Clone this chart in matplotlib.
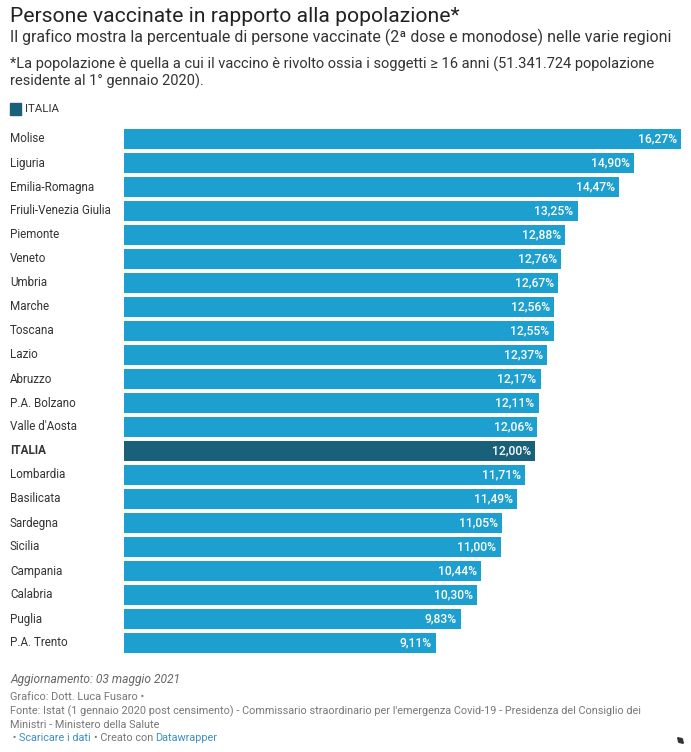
import matplotlib
matplotlib.use('Agg')
import matplotlib.pyplot as plt
from matplotlib.patches import Rectangle, FancyArrowPatch

plt.rcParams['font.family'] = ['Roboto', 'DejaVu Sans']

regioni = ['Molise', 'Liguria', 'Emilia-Romagna', 'Friuli-Venezia Giulia', 'Piemonte',
           'Veneto', 'Umbria', 'Marche', 'Toscana', 'Lazio', 'Abruzzo', 'P.A. Bolzano',
           "Valle d'Aosta", 'ITALIA', 'Lombardia', 'Basilicata', 'Sardegna', 'Sicilia',
           'Campania', 'Calabria', 'Puglia', 'P.A. Trento']
valori = [16.27, 14.90, 14.47, 13.25, 12.88, 12.76, 12.67, 12.56, 12.55, 12.37, 12.17,
          12.11, 12.06, 12.00, 11.71, 11.49, 11.05, 11.00, 10.44, 10.30, 9.83, 9.11]

W, H = 691, 752
BLU = '#1d9fcf'
BLU_SCURO = '#19607a'

fig = plt.figure(figsize=(W / 100, H / 100), dpi=100)


def px(x, y):
    # coordinate pixel (dall'alto a sinistra) -> frazioni della figura
    return x / W, 1 - y / H


def testo(x, y, s, size, color='#333333', **kw):
    fx, fy = px(x, y)
    fig.text(fx, fy, s, fontsize=size * 0.75, color=color, va='center', ha='left', **kw)


# assi del grafico a barre
x0, x1 = 124, 681
y_top, y_bot = 127, 655
ax = fig.add_axes([x0 / W, 1 - y_bot / H, (x1 - x0) / W, (y_bot - y_top) / H])
ax.set_xlim(0, max(valori))
ax.set_ylim(len(regioni) - 0.5, -0.5)
ax.axis('off')

colori = [BLU_SCURO if r == 'ITALIA' else BLU for r in regioni]
ax.barh(range(len(regioni)), valori, height=0.8, color=colori)

for i, (r, v) in enumerate(zip(regioni, valori)):
    ax.text(v - 0.12, i, ('%.2f%%' % v).replace('.', ','), color='white', fontsize=8.7,
            fontweight='medium', va='center', ha='right')
    fy = 1 - (139 + 24 * i) / H
    fig.text(10 / W, fy, r, fontsize=8.4, color='#333333', va='center', ha='left',
             fontweight='bold' if r == 'ITALIA' else 'normal')

# titoli
testo(10, 17, 'Persone vaccinate in rapporto alla popolazione*', 20.3, color='#222222')
testo(10, 37, 'Il grafico mostra la percentuale di persone vaccinate (2ª dose e monodose) nelle varie regioni',
      15.2, color='#333333')
testo(10, 64, '*La popolazione è quella a cui il vaccino è rivolto ossia i soggetti ≥ 16 anni (51.341.724 popolazione',
      14, color='#333333')
testo(10, 81, 'residente al 1° gennaio 2020).', 14, color='#333333')

# legenda
fig.patches.append(Rectangle(px(10, 115), 11 / W, 12 / H, transform=fig.transFigure,
                             color=BLU_SCURO))
testo(25, 109, 'ITALIA', 11, color='#333333')

# note
testo(10, 679, 'Aggiornamento: 03 maggio 2021', 11.5, color='#666666', style='italic')
testo(10, 697, 'Grafico: Dott. Luca Fusaro •', 10.5, color='#777777')
testo(10, 711, "Fonte: Istat (1 gennaio 2020 post censimento) - Commissario straordinario per l'emergenza Covid-19 - Presidenza del Consiglio dei",
      10.4, color='#777777')
testo(10, 725, 'Ministri - Ministero della Salute', 10.4, color='#777777')
testo(10, 738, ' •', 10.4, color='#777777')
testo(19, 738, 'Scaricare i dati', 10.4, color='#3a8fc3')
testo(94, 738, '• Creato con', 10.4, color='#777777')
testo(155, 738, 'Datawrapper', 10.4, color='#3a8fc3')

# icona di ridimensionamento (freccia doppia)
fig.patches.append(FancyArrowPatch(
    px(675, 735), px(686, 746), transform=fig.transFigure,
    arrowstyle='<|-|>,head_length=2.2,head_width=1.5', color='#333333', lw=1.3))

fig.savefig('out.png', dpi=100)
